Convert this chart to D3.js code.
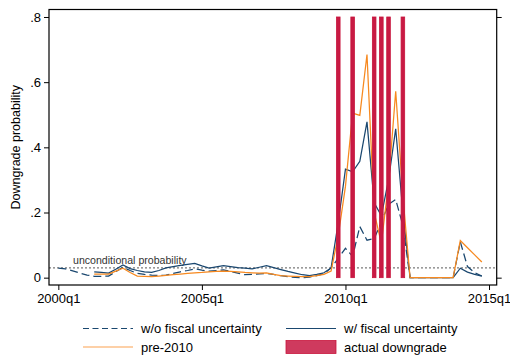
<!DOCTYPE html>
<html>
<head>
<meta charset="utf-8">
<script src="https://cdn.jsdelivr.net/npm/d3@7"></script>
<style>
  body { margin: 0; background: #fff; }
  svg { display: block; font-family: "Liberation Sans", Arial, sans-serif; }
</style>
</head>
<body>
<div id="chart"></div>
<script>
// quarters since 2000q1 (0 = 2000q1)
const quarters = d3.range(0, 60);

// w/o fiscal uncertainty (dashed navy)
const woFiscal = [
  0.029, 0.027, 0.021, 0.014, 0.008, 0.004, 0.004, 0.005, 0.018, 0.032,
  0.022, 0.013, 0.010, 0.008, 0.007, 0.008, 0.013, 0.018, 0.022, 0.027,
  0.023, 0.020, 0.022, 0.024, 0.019, 0.014, 0.009, 0.010, 0.012, 0.013,
  0.010, 0.006, 0.003, 0.001, 0.000, 0.002, 0.006, 0.012, 0.030, 0.060,
  0.090, 0.065, 0.157, 0.115, 0.120, 0.170, 0.225, 0.240, 0.160, 0.000,
  0.000, 0.000, 0.000, 0.000, 0.000, 0.000, 0.110, 0.034, 0.015, 0.005
];

// w/ fiscal uncertainty (solid navy)
const wFiscal = [
  null, null, null, null, null, 0.018, 0.016, 0.014, 0.026, 0.039,
  0.028, 0.022, 0.018, 0.016, 0.022, 0.030, 0.034, 0.038, 0.041, 0.044,
  0.036, 0.029, 0.033, 0.037, 0.034, 0.031, 0.029, 0.027, 0.032, 0.037,
  0.031, 0.025, 0.019, 0.014, 0.009, 0.006, 0.010, 0.015, 0.030, 0.170,
  0.333, 0.325, 0.357, 0.478, 0.230, 0.190, 0.300, 0.457, 0.200, 0.000,
  0.000, 0.000, 0.000, 0.000, 0.000, 0.000, 0.029, 0.017, 0.010, 0.005
];

// pre-2010 (orange)
const pre2010 = [
  null, null, null, null, null, 0.011, 0.011, 0.011, 0.020, 0.029,
  0.016, 0.005, 0.004, 0.003, 0.005, 0.007, 0.009, 0.011, 0.013, 0.015,
  0.016, 0.018, 0.019, 0.020, 0.019, 0.018, 0.016, 0.015, 0.014, 0.015,
  0.010, 0.006, 0.005, 0.004, 0.003, 0.003, 0.006, 0.010, 0.020, 0.130,
  0.280, 0.505, 0.498, 0.685, 0.200, 0.105, 0.290, 0.572, 0.250, 0.000,
  0.000, 0.000, 0.000, 0.000, 0.000, 0.000, 0.114, 0.092, 0.070, 0.048
];

// actual downgrades (quarter index) and bar height
const downgrades = [39, 41, 44, 45, 46, 48];
const downgradeHeight = 0.8;

const unconditional = 0.03;

const xTicks = [0, 20, 40, 60];
const xTickLabels = ["2000q1", "2005q1", "2010q1", "2015q1"];
const yTicks = [0, 0.2, 0.4, 0.6, 0.8];
const yTickLabels = ["0", ".2", ".4", ".6", ".8"];

const navy = "#1a476f";
const orange = "#f7891f";
const crimson = "#c8143c";

const width = 510, height = 358;
const plot = {left: 49, right: 496.7, top: 9.5, bottom: 285};

const svg = d3.select("#chart").append("svg")
    .attr("width", width)
    .attr("height", height);

const x = d3.scaleLinear()
    .domain([-1.3, 61.07])
    .range([plot.left, plot.right]);

const y = d3.scaleLinear()
    .domain([-0.0225, 0.823])
    .range([plot.bottom, plot.top]);

// unconditional probability line
svg.append("line")
    .attr("x1", plot.left).attr("x2", plot.right)
    .attr("y1", y(unconditional)).attr("y2", y(unconditional))
    .attr("stroke", "#7a7a7a")
    .attr("stroke-width", 1.3)
    .attr("stroke-dasharray", "2,2");

svg.append("text")
    .attr("x", 73)
    .attr("y", 263.5)
    .attr("font-size", 10.6)
    .attr("fill", "#333")
    .text("unconditional probability");

// series lines
const series = [
    {values: woFiscal, color: navy, dash: "8,4"},
    {values: wFiscal, color: navy, dash: null},
    {values: pre2010, color: orange, dash: null}
];

const line = d3.line()
    .defined(d => d[1] !== null)
    .x(d => x(d[0]))
    .y(d => y(d[1]));

series.forEach(s => {
    svg.append("path")
        .datum(quarters.map(q => [q, s.values[q]]))
        .attr("fill", "none")
        .attr("stroke", s.color)
        .attr("stroke-width", 1.25)
        .attr("stroke-dasharray", s.dash)
        .attr("d", line);
});

// downgrade bars
const barW = x(0.5) - x(0);
svg.selectAll(".bar")
    .data(downgrades)
    .join("rect")
    .attr("class", "bar")
    .attr("x", d => x(d) - barW / 2)
    .attr("width", barW)
    .attr("y", y(downgradeHeight))
    .attr("height", y(0) - y(downgradeHeight))
    .attr("fill", "#c81a44")
    .attr("stroke", crimson)
    .attr("stroke-width", 0.8);

// frame
svg.append("rect")
    .attr("x", plot.left).attr("y", plot.top)
    .attr("width", plot.right - plot.left)
    .attr("height", plot.bottom - plot.top)
    .attr("fill", "none")
    .attr("stroke", "#000")
    .attr("stroke-width", 1.2);

// left axis
const yAxis = d3.axisLeft(y)
    .tickValues(yTicks)
    .tickSize(5)
    .tickPadding(3)
    .tickFormat((d, i) => yTickLabels[i]);

const yAxisG = svg.append("g")
    .attr("transform", `translate(${plot.left},0)`)
    .call(yAxis);
yAxisG.select(".domain").remove();
yAxisG.selectAll("text").attr("font-size", 13).attr("fill", "#000")
    .style("font-family", "Liberation Sans, Arial, sans-serif");

// right axis: ticks only at 0 and .8
const yAxisR = d3.axisRight(y)
    .tickValues([0, downgradeHeight])
    .tickSize(5)
    .tickFormat("");
const yAxisRG = svg.append("g")
    .attr("transform", `translate(${plot.right},0)`)
    .call(yAxisR);
yAxisRG.select(".domain").remove();

// bottom axis
const xAxis = d3.axisBottom(x)
    .tickValues(xTicks)
    .tickSize(5)
    .tickPadding(4)
    .tickFormat((d, i) => xTickLabels[i]);

const xAxisG = svg.append("g")
    .attr("transform", `translate(0,${plot.bottom})`)
    .call(xAxis);
xAxisG.select(".domain").remove();
xAxisG.selectAll("text").attr("font-size", 13).attr("fill", "#000")
    .style("font-family", "Liberation Sans, Arial, sans-serif");

// y title
svg.append("text")
    .attr("transform", `translate(20,${(plot.top + plot.bottom) / 2}) rotate(-90)`)
    .attr("text-anchor", "middle")
    .attr("font-size", 12.5)
    .text("Downgrade probability");

// legend
const legendItems = [
    {label: "w/o fiscal uncertainty", type: "line", color: navy, dash: "6,3.5", col: 0, row: 0},
    {label: "w/ fiscal uncertainty", type: "line", color: navy, dash: null, col: 1, row: 0},
    {label: "pre-2010", type: "line", color: "#fba150", dash: null, col: 0, row: 1},
    {label: "actual downgrade", type: "rect", col: 1, row: 1}
];
const colX = [83, 286];
const rowY = [328.5, 347];

const legend = svg.append("g");
legendItems.forEach(it => {
    const g = legend.append("g")
        .attr("transform", `translate(${colX[it.col]},${rowY[it.row]})`);
    if (it.type === "line") {
        g.append("line")
            .attr("x1", 0).attr("x2", 50)
            .attr("y1", 0).attr("y2", 0)
            .attr("stroke", it.color)
            .attr("stroke-width", 1.2)
            .attr("stroke-dasharray", it.dash);
    } else {
        g.append("rect")
            .attr("x", 0).attr("y", -6.5)
            .attr("width", 50).attr("height", 13)
            .attr("fill", "#cf3a5e")
            .attr("stroke", crimson)
            .attr("stroke-width", 0.8);
    }
    g.append("text")
        .attr("x", 58)
        .attr("y", 4.5)
        .attr("font-size", 13)
        .text(it.label);
});
</script>
</body>
</html>
